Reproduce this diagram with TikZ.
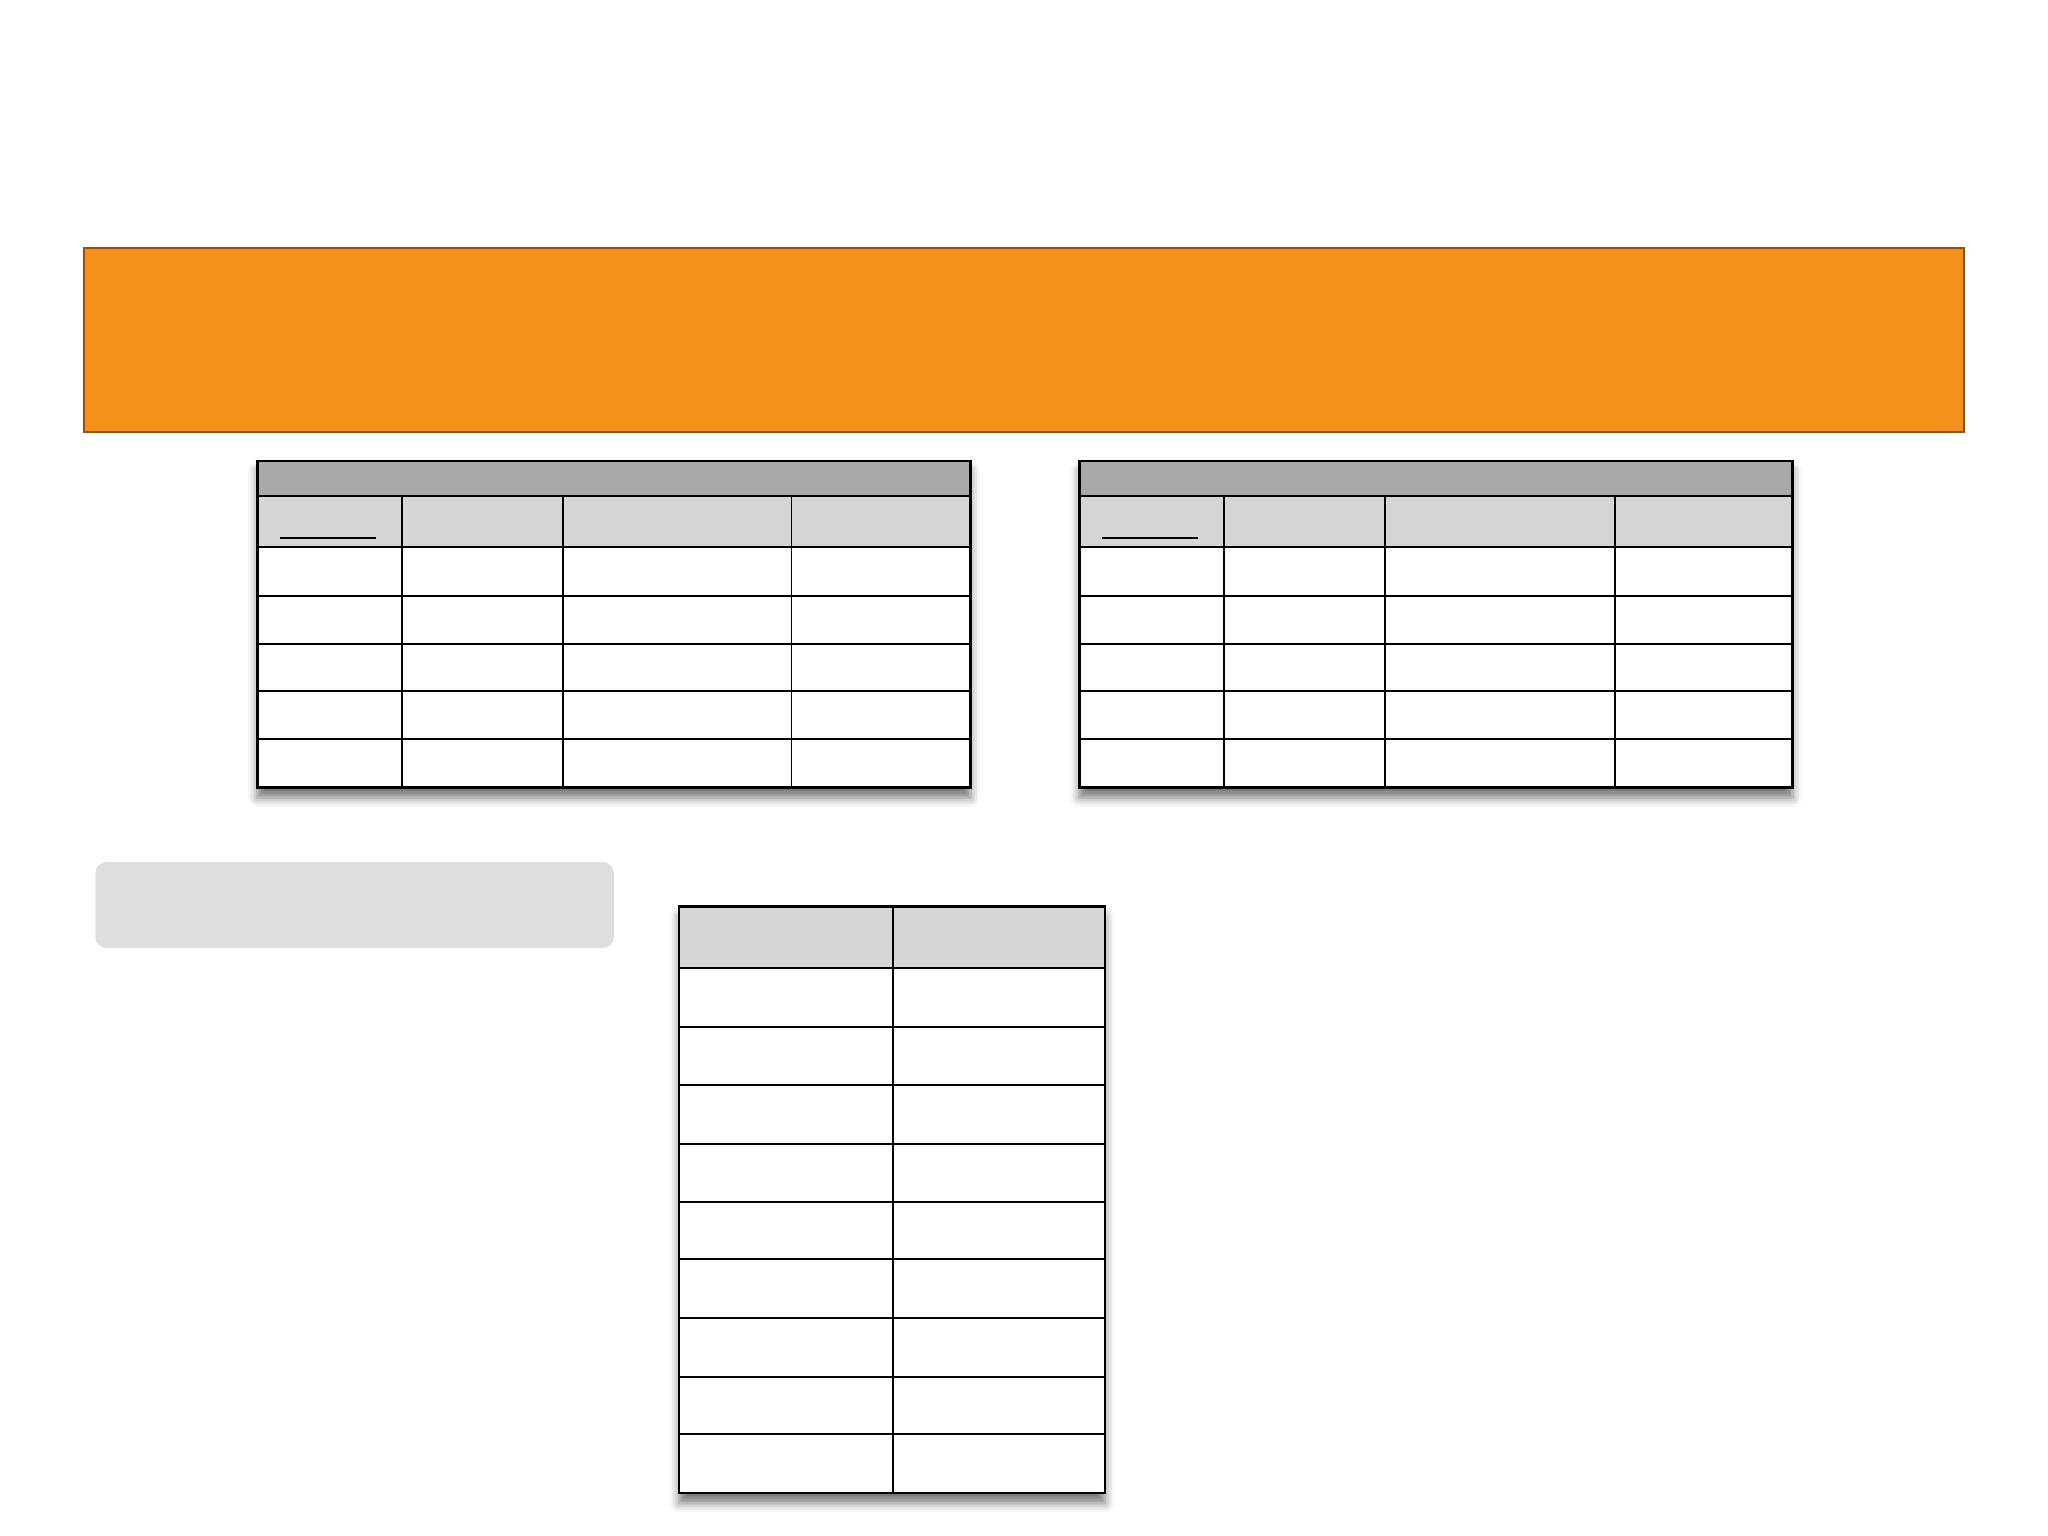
\documentclass[tikz,border=0pt]{standalone}
\usetikzlibrary{shadows.blur}

\definecolor{bandorange}{RGB}{243,145,26}
\definecolor{bandedge}{RGB}{150,78,18}
\definecolor{titlegray}{RGB}{169,169,169}
\definecolor{headgray}{RGB}{214,214,214}
\definecolor{notegray}{RGB}{221,222,224}

\begin{document}
\begin{tikzpicture}[x=0.01cm,y=-0.01cm,
    grid/.style={line width=0.42pt},
    frame/.style={line width=0.55pt},
    sheet/.style={fill=white,blur shadow={shadow xshift=0pt,shadow yshift=-2.2pt,shadow blur radius=2pt,shadow opacity=55}}]
    \useasboundingbox (0,0) rectangle (1568,1176);

    % orange banner
    \draw[bandedge,line width=0.4pt,fill=bandorange] (64,190) rectangle (1504,331);

    % grey note box
    \fill[notegray,rounded corners=2.5pt] (73,660) rectangle (470,726);

    % left table
    \begin{scope}
        \path[sheet] (197,353) rectangle (743,603);
        \fill[titlegray] (197,353) rectangle (743,380);
        \fill[headgray] (197,380) rectangle (743,419);
        \foreach \y in {380,419,456,493,529,566}
            \draw[grid] (197,\y) -- (743,\y);
        \foreach \x in {308,431,606}
            \draw[grid] (\x,380) -- (\x,603);
        \draw[grid] (214,412) -- (288,412);
        \draw[frame] (197,353) rectangle (743,603);
    \end{scope}

    % right table
    \begin{scope}[xshift=6.29cm]
        \path[sheet] (197,353) rectangle (743,603);
        \fill[titlegray] (197,353) rectangle (743,380);
        \fill[headgray] (197,380) rectangle (743,419);
        \foreach \y in {380,419,456,493,529,566}
            \draw[grid] (197,\y) -- (743,\y);
        \foreach \x in {308,431,607}
            \draw[grid] (\x,380) -- (\x,603);
        \draw[grid] (214,412) -- (288,412);
        \draw[frame] (197,353) rectangle (743,603);
    \end{scope}

    % bottom table
    \path[sheet] (520,694) rectangle (846,1143);
    \fill[headgray] (520,694) rectangle (846,741);
    \foreach \y in {741,786,831,876,920,964,1009,1054,1098}
        \draw[grid] (520,\y) -- (846,\y);
    \draw[grid] (684,694) -- (684,1143);
    \draw[frame] (520,694) rectangle (846,1143);
\end{tikzpicture}
\end{document}
